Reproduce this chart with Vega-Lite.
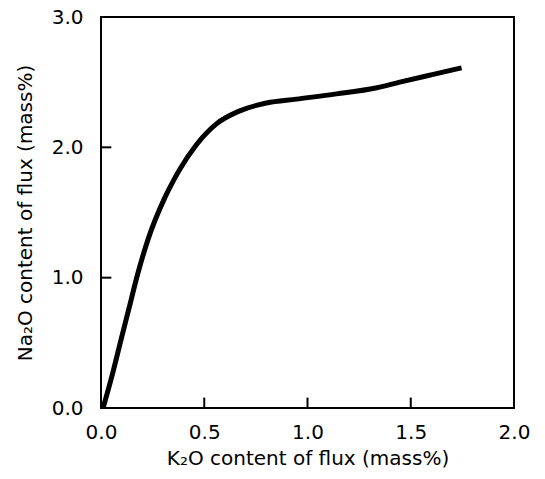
{
  "$schema": "https://vega.github.io/schema/vega-lite/v6.json",
  "width": 413,
  "height": 391,
  "autosize": {"type": "none"},
  "padding": {"left": 101, "top": 17, "right": 31, "bottom": 71},
  "background": "white",
  "config": {
    "view": {"stroke": "black", "strokeWidth": 2},
    "font": "DejaVu Sans"
  },
  "datasets": {
    "curve": [
      {"k2o": 0.01, "na2o": 0.0},
      {"k2o": 0.057, "na2o": 0.27},
      {"k2o": 0.098, "na2o": 0.53},
      {"k2o": 0.138, "na2o": 0.78},
      {"k2o": 0.178, "na2o": 1.03},
      {"k2o": 0.227, "na2o": 1.29},
      {"k2o": 0.308, "na2o": 1.61},
      {"k2o": 0.356, "na2o": 1.76},
      {"k2o": 0.381, "na2o": 1.83},
      {"k2o": 0.462, "na2o": 2.02},
      {"k2o": 0.559, "na2o": 2.18},
      {"k2o": 0.672, "na2o": 2.28},
      {"k2o": 0.801, "na2o": 2.34},
      {"k2o": 0.946, "na2o": 2.37},
      {"k2o": 1.14, "na2o": 2.41},
      {"k2o": 1.33, "na2o": 2.455},
      {"k2o": 1.447, "na2o": 2.5},
      {"k2o": 1.609, "na2o": 2.56},
      {"k2o": 1.746, "na2o": 2.61}
    ],
    "xticks": [{"v": 0.5}, {"v": 1.0}, {"v": 1.5}],
    "yticks": [{"v": 1.0}, {"v": 2.0}]
  },
  "layer": [
    {
      "data": {"name": "curve"},
      "mark": {"type": "line", "color": "black", "strokeWidth": 5, "interpolate": "monotone", "strokeCap": "butt"},
      "encoding": {
        "x": {
          "field": "k2o",
          "type": "quantitative",
          "scale": {"domain": [0, 2], "nice": false, "zero": false},
          "axis": {
            "title": "K₂O content of flux (mass%)",
            "values": [0, 0.5, 1, 1.5, 2],
            "format": ".1f",
            "grid": false,
            "domain": false,
            "ticks": false,
            "tickSize": 0,
            "labelPadding": 14,
            "labelFontSize": 20,
            "labelColor": "black",
            "labelFlush": false,
            "titleFontSize": 20,
            "titleFontWeight": "normal",
            "titleColor": "black",
            "titlePadding": 6
          }
        },
        "y": {
          "field": "na2o",
          "type": "quantitative",
          "scale": {"domain": [0, 3], "nice": false},
          "axis": {
            "title": "Na₂O content of flux (mass%)",
            "values": [0, 1, 2, 3],
            "format": ".1f",
            "grid": false,
            "domain": false,
            "ticks": false,
            "tickSize": 0,
            "labelPadding": 18,
            "labelFontSize": 20,
            "labelColor": "black",
            "labelFlush": false,
            "titleFontSize": 20,
            "titleFontWeight": "normal",
            "titleColor": "black",
            "titlePadding": 16
          }
        }
      }
    },
    {
      "data": {"name": "xticks"},
      "mark": {"type": "rule", "color": "black", "strokeWidth": 2, "opacity": 1},
      "encoding": {
        "x": {"field": "v", "type": "quantitative"},
        "y": {"datum": 0},
        "y2": {"datum": 0.08}
      }
    },
    {
      "data": {"name": "yticks"},
      "mark": {"type": "rule", "color": "black", "strokeWidth": 2, "opacity": 1},
      "encoding": {
        "y": {"field": "v", "type": "quantitative"},
        "x": {"datum": 0},
        "x2": {"datum": 0.05}
      }
    }
  ]
}
